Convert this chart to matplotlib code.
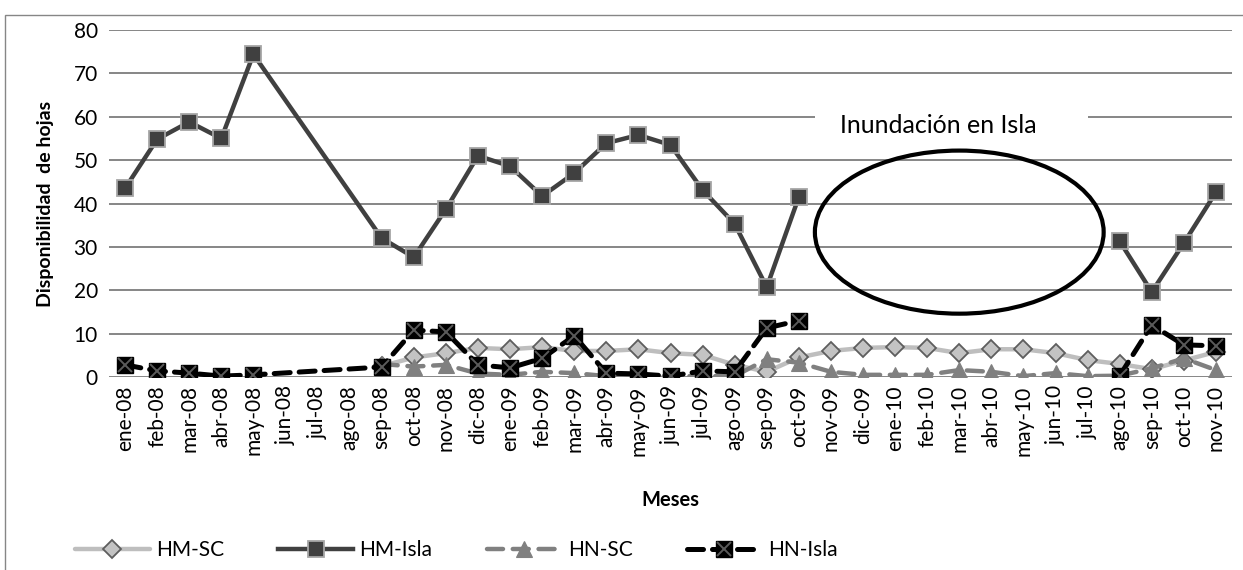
import numpy as np
import matplotlib
matplotlib.use('Agg')
import matplotlib.pyplot as plt
from matplotlib.patches import Ellipse, Rectangle
from matplotlib.lines import Line2D
from matplotlib.legend_handler import HandlerTuple

plt.rcParams['font.family'] = ['Lato', 'DejaVu Sans']

nan = np.nan

# meses del eje x
meses = ['ene-08', 'feb-08', 'mar-08', 'abr-08', 'may-08', 'jun-08', 'jul-08',
         'ago-08', 'sep-08', 'oct-08', 'nov-08', 'dic-08', 'ene-09', 'feb-09',
         'mar-09', 'abr-09', 'may-09', 'jun-09', 'jul-09', 'ago-09', 'sep-09',
         'oct-09', 'nov-09', 'dic-09', 'ene-10', 'feb-10', 'mar-10', 'abr-10',
         'may-10', 'jun-10', 'jul-10', 'ago-10', 'sep-10', 'oct-10', 'nov-10']

# series (nan = sin dato)
hm_sc = [nan, nan, nan, nan, nan, nan, nan, nan,
         2.5, 4.5, 5.5, 6.7, 6.4, 6.9, 6.0, 6.0, 6.4, 5.5, 5.1, 2.8, 1.2, 4.5,
         6.0, 6.7, 6.9, 6.7, 5.5, 6.4, 6.4, 5.5, 3.9, 3.0, 1.8, 3.8, 5.8]
hm_isla = [43.5, 54.8, 58.8, 55.0, 74.4, nan, nan, nan,
           32.0, 27.6, 38.7, 51.0, 48.6, 41.7, 47.0, 53.9, 55.8, 53.5, 43.1, 35.3, 20.7, 41.5,
           nan, nan, nan, nan, nan, nan, nan, nan, nan,
           31.3, 19.6, 30.9, 42.6]
hn_sc = [nan, nan, nan, nan, nan, nan, nan, nan,
         3.0, 2.4, 2.8, 0.8, 0.5, 1.2, 0.9, 0.2, 0.2, 0.2, 0.2, 0.2, 4.1, 3.3,
         1.2, 0.5, 0.5, 0.5, 1.6, 1.2, 0.2, 0.9, 0.2, 0.3, 2.0, 4.3, 1.6]
hn_isla = [2.8, 1.4, 0.9, 0.2, 0.5, nan, nan, nan,
           2.3, 10.8, 10.4, 2.8, 2.1, 4.3, 9.5, 0.9, 0.7, 0.2, 1.4, 1.2, 11.3, 13.0,
           nan, nan, nan, nan, nan, nan, nan, nan, nan,
           0.3, 12.0, 7.4, 7.2]

# periodo de inundación en Isla (la línea no se une a través de él)
ini_inund = meses.index('nov-09')
fin_inund = meses.index('jul-10')

fig = plt.figure(figsize=(12.43, 5.70), dpi=100)
ax = fig.add_axes([109 / 1243, 1 - 377 / 570, 1123 / 1243, 347 / 570])

x = np.arange(len(meses))


def dibujar(valores, estilo_linea, estilo_marca, z, cortar=False):
    y = np.array(valores, dtype=float)
    if cortar:
        tramos = (x < ini_inund, x > fin_inund)
    else:
        tramos = (x >= 0,)
    for tramo in tramos:
        ok = tramo & ~np.isnan(y)
        ax.plot(x[ok], y[ok], zorder=z, **estilo_linea)
    ok = ~np.isnan(y)
    ax.plot(x[ok], y[ok], linestyle='none', zorder=z + 0.5, **estilo_marca)


linea_hm_sc = dict(color='#BEBEBE', lw=3.2, solid_capstyle='round')
marca_hm_sc = dict(marker='D', markersize=9, markerfacecolor='#C3C3C3',
                   markeredgecolor='#5E5E5E', markeredgewidth=1.3)
linea_hm_isla = dict(color='#404040', lw=3.2)
marca_hm_isla = dict(marker='s', markersize=11.5, markerfacecolor='#404040',
                     markeredgecolor='#A6A6A6', markeredgewidth=1.3)
linea_hn_sc = dict(color='#808080', lw=3.2, linestyle=(0, (3.6, 2.2)), dash_capstyle='round')
marca_hn_sc = dict(marker='^', markersize=12, markerfacecolor='#808080',
                   markeredgecolor='#808080', markeredgewidth=0.8)
linea_hn_isla = dict(color='black', lw=3.6, linestyle=(0, (3.2, 1.8)), dash_capstyle='round')
marca_hn_isla = dict(marker='s', markersize=12, markerfacecolor='black',
                     markeredgecolor='black', markeredgewidth=1)
marca_x = dict(marker='x', markersize=10, color='#5A5A5A', markeredgewidth=1.4)

dibujar(hm_sc, linea_hm_sc, marca_hm_sc, 3)
dibujar(hm_isla, linea_hm_isla, marca_hm_isla, 4, cortar=True)
dibujar(hn_sc, linea_hn_sc, marca_hn_sc, 5)
dibujar(hn_isla, linea_hn_isla, marca_hn_isla, 6, cortar=True)
yi = np.array(hn_isla, dtype=float)
ax.plot(x[~np.isnan(yi)], yi[~np.isnan(yi)], linestyle='none', zorder=7, **marca_x)

# anotación de la inundación
ax.add_patch(Rectangle((21.5, 56), 8.5, 8, facecolor='white', edgecolor='none', zorder=1))
ax.text(25.35, 58.0, 'Inundación en Isla', fontsize=18, ha='center', va='center', zorder=2)
ax.add_patch(Ellipse((26.0, 33.4), 9.0, 37.6, fill=False, edgecolor='black', lw=3, zorder=8))

ax.set_xlim(-0.5, len(meses) - 0.5)
ax.set_ylim(0, 80)
ax.set_yticks(range(0, 81, 10))
ax.set_xticks(x)
ax.set_xticklabels(meses, rotation=90, fontsize=15)
ax.tick_params(axis='y', labelsize=15, length=0, pad=8)
ax.tick_params(axis='x', length=0, pad=6)
ax.grid(axis='y', color='#868686', lw=1.4)
ax.set_axisbelow(True)
for s in ax.spines.values():
    s.set_visible(False)

ax.set_ylabel('Disponibilidad  de hojas', fontsize=14, fontweight='bold', labelpad=14)
ax.set_xlabel('Meses', fontsize=14.5, fontweight='bold', labelpad=25)

# leyenda
h_hm_sc = Line2D([], [], **linea_hm_sc, **marca_hm_sc)
h_hm_isla = Line2D([], [], **linea_hm_isla, **marca_hm_isla)
h_hn_sc = Line2D([], [], **linea_hn_sc, **marca_hn_sc)
h_hn_isla = (Line2D([], [], **linea_hn_isla, **marca_hn_isla), Line2D([], [], linestyle='none', **marca_x))
fig.legend([h_hm_sc, h_hm_isla, h_hn_sc, h_hn_isla], ['HM-SC', 'HM-Isla', 'HN-SC', 'HN-Isla'],
           handler_map={tuple: HandlerTuple(ndivide=1)}, ncol=4, frameon=False,
           loc='center left', bbox_to_anchor=(0.045, 0.035), fontsize=15,
           handlelength=3.6, columnspacing=2.6, handletextpad=0.3)

# marco exterior del gráfico
fig.add_artist(Rectangle((5 / 1243, -0.1), 1.2, 1.1 - 15 / 570, transform=fig.transFigure,
                         fill=False, edgecolor='#868686', lw=1))

fig.savefig('out.png', dpi=100)
